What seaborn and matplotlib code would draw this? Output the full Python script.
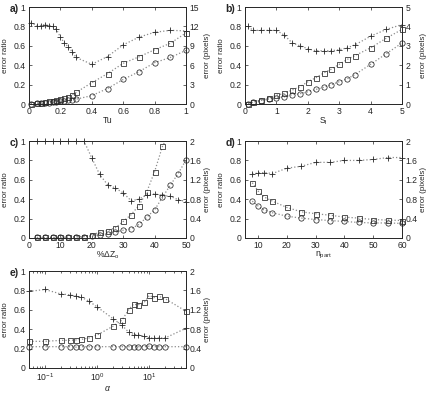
import numpy as np
import pandas as pd
import seaborn as sns
import matplotlib
matplotlib.use('Agg')
import matplotlib.pyplot as plt
from matplotlib.ticker import FuncFormatter

# a) Tu
tu_x = [0.01, 0.05, 0.075, 0.1, 0.125, 0.15, 0.175, 0.2, 0.225, 0.25, 0.275, 0.3,
        0.4, 0.5, 0.6, 0.7, 0.8, 0.9, 1.0]
tu_ratio = [0.84, 0.81, 0.81, 0.82, 0.81, 0.80, 0.77, 0.69, 0.63, 0.59, 0.54, 0.48,
            0.41, 0.49, 0.61, 0.69, 0.74, 0.76, 0.755]
tu_sq = [0.05, 0.15, 0.22, 0.3, 0.4, 0.5, 0.62, 0.8, 0.95, 1.15, 1.4, 1.8,
         3.3, 4.7, 6.3, 7.3, 8.4, 9.4, 11.0]
tu_ci = [0.02, 0.08, 0.12, 0.15, 0.22, 0.3, 0.37, 0.45, 0.52, 0.6, 0.68, 0.75,
         1.3, 2.4, 3.8, 5.0, 6.4, 7.2, 8.3]

# b) S_l
sl_x = [0.1, 0.25, 0.5, 0.75, 1.0, 1.25, 1.5, 1.75, 2.0, 2.25, 2.5, 2.75, 3.0,
        3.25, 3.5, 4.0, 4.5, 5.0]
sl_ratio = [0.80, 0.76, 0.76, 0.76, 0.76, 0.71, 0.63, 0.60, 0.57, 0.55, 0.55, 0.55,
            0.56, 0.58, 0.61, 0.70, 0.77, 0.82]
sl_sq = [0.02, 0.09, 0.2, 0.3, 0.45, 0.55, 0.72, 0.89, 1.15, 1.35, 1.6, 1.8, 2.05,
         2.3, 2.5, 2.9, 3.4, 3.85]
sl_ci = [0.02, 0.1, 0.18, 0.25, 0.33, 0.37, 0.48, 0.53, 0.63, 0.75, 0.86, 1.0, 1.15,
         1.3, 1.52, 2.05, 2.6, 3.15]

# c) %dZo
dz_x = [2.5, 5, 7.5, 10, 12.5, 15, 17.5, 20, 22.5, 25, 27.5, 30, 32.5, 35, 37.5,
        40, 42.5, 45, 47.5, 50]
dz_ratio = [1.0, 1.0, 1.0, 1.0, 1.0, 1.0, 1.0, 0.825, 0.655, 0.55, 0.515, 0.465,
            0.385, 0.40, 0.445, 0.455, 0.44, 0.43, 0.395, 0.375]
dz_sq = [0.01, 0.01, 0.01, 0.01, 0.02, 0.03, 0.03, 0.055, 0.12, 0.15, 0.21, 0.34,
         0.48, 0.67, 0.95, 1.37, 1.89, 2.2, None, None]
dz_ci = [0.01, 0.01, 0.01, 0.01, 0.02, 0.02, 0.03, 0.04, 0.07, 0.09, 0.12, 0.16,
         0.19, 0.28, 0.43, 0.58, 0.84, 1.09, 1.33, 1.61]

# d) n_part
np_x = [8, 10, 12, 15, 20, 25, 30, 35, 40, 45, 50, 55, 60]
np_ratio = [0.66, 0.67, 0.675, 0.665, 0.72, 0.74, 0.78, 0.78, 0.80, 0.80, 0.81, 0.83, 0.83]
np_sq = [1.14, 0.97, 0.85, 0.76, 0.63, 0.54, 0.5, 0.47, 0.43, 0.41, 0.38, 0.37, 0.36]
np_ci = [0.76, 0.66, 0.58, 0.52, 0.45, 0.41, 0.38, 0.36, 0.34, 0.32, 0.31, 0.31, 0.3]

# e) alpha
al_x = [0.05, 0.1, 0.2, 0.3, 0.4, 0.5, 0.7, 1, 2, 3, 4, 5, 6, 8, 10, 12, 15, 20, 50]
al_ratio = [0.79, 0.81, 0.765, 0.755, 0.74, 0.73, 0.69, 0.63, 0.51, 0.44, 0.37, 0.345,
            0.345, 0.325, 0.31, 0.31, 0.31, 0.31, 0.41]
al_sq = [0.55, 0.55, 0.57, 0.57, 0.58, 0.59, 0.62, 0.68, 0.86, 0.99, 1.2, 1.32, 1.3,
         1.36, 1.5, 1.45, 1.48, 1.43, 1.17]
al_ci = [0.44, 0.44, 0.44, 0.44, 0.43, 0.44, 0.44, 0.44, 0.44, 0.44, 0.44, 0.44, 0.44,
         0.44, 0.45, 0.44, 0.44, 0.44, 0.44]

panels = [
    {'tag': 'a)', 'x': tu_x, 'r': tu_ratio, 'sq': tu_sq, 'ci': tu_ci, 'xlabel': 'Tu',
     'xlim': (0, 1), 'xticks': np.arange(0, 1.01, 0.2), 'rmax': 15, 'rticks': np.arange(0, 16, 3),
     'pos': (0.067, 0.736)},
    {'tag': 'b)', 'x': sl_x, 'r': sl_ratio, 'sq': sl_sq, 'ci': sl_ci, 'xlabel': r'S$_\mathrm{l}$',
     'xlim': (0, 5), 'xticks': np.arange(0, 6, 1), 'rmax': 5, 'rticks': np.arange(0, 6, 1),
     'pos': (0.566, 0.736)},
    {'tag': 'c)', 'x': dz_x, 'r': dz_ratio, 'sq': dz_sq, 'ci': dz_ci, 'xlabel': r'%ΔZ$_\mathrm{o}$',
     'xlim': (0, 50), 'xticks': np.arange(0, 51, 10), 'rmax': 2, 'rticks': np.arange(0, 2.01, 0.4),
     'pos': (0.067, 0.396)},
    {'tag': 'd)', 'x': np_x, 'r': np_ratio, 'sq': np_sq, 'ci': np_ci, 'xlabel': r'n$_\mathrm{part}$',
     'xlim': (5.5, 60), 'xticks': np.arange(10, 61, 10), 'rmax': 2, 'rticks': np.arange(0, 2.01, 0.4),
     'pos': (0.566, 0.396)},
    {'tag': 'e)', 'x': al_x, 'r': al_ratio, 'sq': al_sq, 'ci': al_ci, 'xlabel': r'$\alpha$',
     'xlim': (0.05, 50), 'xticks': None, 'rmax': 2, 'rticks': np.arange(0, 2.01, 0.4),
     'pos': (0.067, 0.066), 'log': True},
]

sns.set_style('ticks')
plt.rcParams['font.family'] = ['Liberation Sans', 'DejaVu Sans']
plt.rcParams['mathtext.fontset'] = 'custom'
plt.rcParams['mathtext.rm'] = 'Liberation Sans'
plt.rcParams['mathtext.it'] = 'Liberation Sans:italic'
plt.rcParams['axes.linewidth'] = 0.6

fmt = FuncFormatter(lambda v, p: '%g' % round(v, 6))
LINE = '0.55'
MARK = '0.15'
FS = 5.8


def draw(ax, x, y, marker, size, ymax):
    df = pd.DataFrame({'x': x, 'y': y}).dropna()
    sns.lineplot(data=df, x='x', y='y', ax=ax, color=LINE, linestyle=':', linewidth=0.9,
                 estimator=None, sort=False)
    inside = df[df['y'] <= ymax * 1.001]
    if marker == '+':
        ax.plot(inside['x'], inside['y'], linestyle='none', marker='+', markersize=size,
                markeredgecolor=MARK, markeredgewidth=0.6, clip_on=False, zorder=5)
    else:
        ax.plot(inside['x'], inside['y'], linestyle='none', marker=marker, markersize=size,
                markerfacecolor='none', markeredgecolor=MARK, markeredgewidth=0.55,
                clip_on=False, zorder=5)


fig = plt.figure(figsize=(4.33, 3.94), dpi=100)
W, H = 0.3626, 0.246
for p in panels:
    ax = fig.add_axes([p['pos'][0], p['pos'][1], W, H])
    ax2 = ax.twinx()
    if p.get('log'):
        ax.set_xscale('log')
    draw(ax, p['x'], p['r'], '+', 4.6, 1.0)
    draw(ax2, p['x'], p['sq'], 's', 3.6, p['rmax'])
    draw(ax2, p['x'], p['ci'], 'o', 3.8, p['rmax'])
    ax.set_xlim(*p['xlim'])
    ax.set_ylim(0, 1)
    ax2.set_ylim(0, p['rmax'])
    ax.set_yticks(np.arange(0, 1.01, 0.2))
    ax2.set_yticks(p['rticks'])
    if p['xticks'] is not None:
        ax.set_xticks(p['xticks'])
        ax.xaxis.set_major_formatter(fmt)
    ax.yaxis.set_major_formatter(fmt)
    ax2.yaxis.set_major_formatter(fmt)
    ax.tick_params(axis='both', which='both', direction='in', labelsize=FS + 0.4, length=2.5,
                   width=0.5, top=True, right=False, pad=2.5)
    ax.tick_params(which='minor', length=1.5)
    ax2.tick_params(axis='y', direction='in', labelsize=FS + 0.4, length=2.5, width=0.5, pad=2.5)
    ax.set_xlabel(p['xlabel'], fontsize=FS + 0.4, va='top')
    ax.xaxis.set_label_coords(0.5, -0.12 if not p.get('log') else -0.16)
    ax.set_ylabel('error ratio', fontsize=FS, va='center')
    ax.yaxis.set_label_coords(-0.148, 0.5)
    ax2.set_ylabel('error (pixels)', fontsize=FS, va='center')
    ax2.yaxis.set_label_coords(1.134, 0.5)
    for a in (ax, ax2):
        for s in a.spines.values():
            s.set_visible(True)
            s.set_linewidth(0.6)
    fig.text(p['pos'][0] - 0.045, p['pos'][1] + H - 0.005, p['tag'], fontsize=7.5,
             fontweight='bold', va='center', ha='left')

fig.savefig('out.png', dpi=100, facecolor='white')
